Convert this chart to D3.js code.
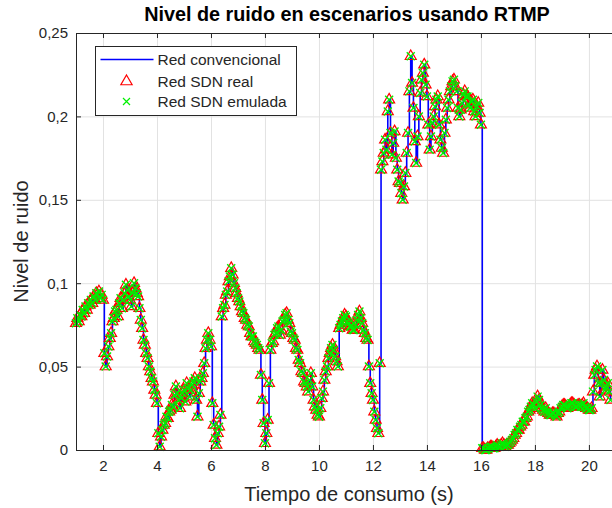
<!DOCTYPE html>
<html>
<head>
<meta charset="utf-8">
<script src="https://cdn.jsdelivr.net/npm/d3@7"></script>
<style>
body { margin: 0; background: #fff; }
svg { font-family: "Liberation Sans", Arial, sans-serif; }
</style>
</head>
<body>
<svg id="chart" width="612" height="508"></svg>
<script>
//
// Data
//

// sample times (s)
var tiempo = [
  1.00, 1.05, 1.10, 1.15, 1.20, 1.25, 1.30, 1.35, 1.40, 1.45, 1.50, 1.55, 1.60, 1.65, 1.70, 1.75, 1.80, 1.85, 1.90, 1.95,
  2.00, 2.05, 2.10, 2.15, 2.20, 2.25, 2.30, 2.35, 2.40, 2.45, 2.50, 2.55, 2.60, 2.65, 2.70, 2.75, 2.80, 2.85, 2.90, 2.95,
  3.00, 3.05, 3.10, 3.15, 3.20, 3.25, 3.30, 3.35, 3.40, 3.45, 3.50, 3.55, 3.60, 3.65, 3.70, 3.75, 3.80, 3.85, 3.90, 3.95,
  4.00, 4.05, 4.10, 4.15, 4.20, 4.25, 4.30, 4.35, 4.40, 4.45, 4.50, 4.55, 4.60, 4.65, 4.70, 4.75, 4.80, 4.85, 4.90, 4.95,
  5.00, 5.05, 5.10, 5.15, 5.20, 5.25, 5.30, 5.35, 5.40, 5.45, 5.50, 5.55, 5.60, 5.65, 5.70, 5.75, 5.80, 5.85, 5.90, 5.95,
  6.00, 6.05, 6.10, 6.15, 6.20, 6.25, 6.30, 6.35, 6.40, 6.45, 6.50, 6.55, 6.60, 6.65, 6.70, 6.75, 6.80, 6.85, 6.90, 6.95,
  7.00, 7.05, 7.10, 7.15, 7.20, 7.25, 7.30, 7.35, 7.40, 7.45, 7.50, 7.55, 7.60, 7.65, 7.70, 7.75, 7.80, 7.85, 7.90, 7.95,
  8.00, 8.05, 8.10, 8.15, 8.20, 8.25, 8.30, 8.35, 8.40, 8.45, 8.50, 8.55, 8.60, 8.65, 8.70, 8.75, 8.80, 8.85, 8.90, 8.95,
  9.00, 9.05, 9.10, 9.15, 9.20, 9.25, 9.30, 9.35, 9.40, 9.45, 9.50, 9.55, 9.60, 9.65, 9.70, 9.75, 9.80, 9.85, 9.90, 9.95,
  10.00, 10.05, 10.10, 10.15, 10.20, 10.25, 10.30, 10.35, 10.40, 10.45, 10.50, 10.55, 10.60, 10.65, 10.70, 10.75, 10.80, 10.85, 10.90, 10.95,
  11.00, 11.05, 11.10, 11.15, 11.20, 11.25, 11.30, 11.35, 11.40, 11.45, 11.50, 11.55, 11.60, 11.65, 11.70, 11.75, 11.80, 11.85, 11.90, 11.95,
  12.00, 12.05, 12.10, 12.15, 12.20, 12.25, 12.30, 12.35, 12.40, 12.45, 12.50, 12.55, 12.60, 12.65, 12.70, 12.75, 12.80, 12.85, 12.90, 12.95,
  13.00, 13.05, 13.10, 13.15, 13.20, 13.25, 13.30, 13.35, 13.40, 13.45, 13.50, 13.55, 13.60, 13.65, 13.70, 13.75, 13.80, 13.85, 13.90, 13.95,
  14.00, 14.05, 14.10, 14.15, 14.20, 14.25, 14.30, 14.35, 14.40, 14.45, 14.50, 14.55, 14.60, 14.65, 14.70, 14.75, 14.80, 14.85, 14.90, 14.95,
  15.00, 15.05, 15.10, 15.15, 15.20, 15.25, 15.30, 15.35, 15.40, 15.45, 15.50, 15.55, 15.60, 15.65, 15.70, 15.75, 15.80, 15.85, 15.90, 15.95,
  16.00, 16.05, 16.10, 16.15, 16.20, 16.25, 16.30, 16.35, 16.40, 16.45, 16.50, 16.55, 16.60, 16.65, 16.70, 16.75, 16.80, 16.85, 16.90, 16.95,
  17.00, 17.05, 17.10, 17.15, 17.20, 17.25, 17.30, 17.35, 17.40, 17.45, 17.50, 17.55, 17.60, 17.65, 17.70, 17.75, 17.80, 17.85, 17.90, 17.95,
  18.00, 18.05, 18.10, 18.15, 18.20, 18.25, 18.30, 18.35, 18.40, 18.45, 18.50, 18.55, 18.60, 18.65, 18.70, 18.75, 18.80, 18.85, 18.90, 18.95,
  19.00, 19.05, 19.10, 19.15, 19.20, 19.25, 19.30, 19.35, 19.40, 19.45, 19.50, 19.55, 19.60, 19.65, 19.70, 19.75, 19.80, 19.85, 19.90, 19.95,
  20.00, 20.05, 20.10, 20.15, 20.20, 20.25, 20.30, 20.35, 20.40, 20.45, 20.50, 20.55, 20.60, 20.65, 20.70, 20.75, 20.80
]

// noise level, the three networks overlap on the picture
var ruido = [
  0.076, 0.079, 0.077, 0.081, 0.080, 0.084, 0.082, 0.086, 0.084, 0.088, 0.087, 0.090, 0.088, 0.092, 0.090, 0.094, 0.093, 0.095, 0.091, 0.093,
  0.090, 0.058, 0.050, 0.056, 0.062, 0.067, 0.070, 0.077, 0.079, 0.083, 0.084, 0.080, 0.088, 0.091, 0.085, 0.090, 0.094, 0.099, 0.096, 0.092,
  0.090, 0.086, 0.094, 0.100, 0.097, 0.094, 0.092, 0.085, 0.078, 0.073, 0.066, 0.063, 0.058, 0.055, 0.050, 0.047, 0.043, 0.041, 0.036, 0.033,
  0.028, 0.010, 0.002, 0.008, 0.012, 0.015, 0.016, 0.020, 0.019, 0.023, 0.024, 0.027, 0.026, 0.033, 0.038, 0.034, 0.030, 0.025, 0.031, 0.034,
  0.036, 0.029, 0.040, 0.037, 0.032, 0.036, 0.039, 0.041, 0.043, 0.030, 0.020, 0.034, 0.041, 0.043, 0.046, 0.052, 0.061, 0.066, 0.070, 0.066,
  0.062, 0.028, 0.015, 0.007, 0.003, 0.010, 0.014, 0.021, 0.080, 0.085, 0.087, 0.093, 0.095, 0.101, 0.104, 0.109, 0.105, 0.100, 0.097, 0.094,
  0.091, 0.089, 0.086, 0.083, 0.082, 0.079, 0.078, 0.075, 0.074, 0.070, 0.068, 0.068, 0.065, 0.064, 0.063, 0.061, 0.060, 0.045, 0.030, 0.016,
  0.004, 0.010, 0.018, 0.040, 0.060, 0.064, 0.065, 0.069, 0.070, 0.073, 0.074, 0.069, 0.072, 0.077, 0.078, 0.081, 0.082, 0.078, 0.076, 0.071,
  0.070, 0.067, 0.066, 0.061, 0.060, 0.054, 0.052, 0.047, 0.046, 0.041, 0.040, 0.038, 0.035, 0.042, 0.046, 0.038, 0.030, 0.026, 0.024, 0.021,
  0.020, 0.025, 0.031, 0.035, 0.042, 0.047, 0.050, 0.055, 0.058, 0.061, 0.063, 0.060, 0.056, 0.053, 0.050, 0.073, 0.075, 0.077, 0.079, 0.081,
  0.080, 0.077, 0.076, 0.074, 0.074, 0.072, 0.072, 0.075, 0.078, 0.081, 0.083, 0.079, 0.076, 0.072, 0.070, 0.067, 0.066, 0.050, 0.040, 0.034,
  0.030, 0.023, 0.018, 0.013, 0.010, 0.052, 0.168, 0.173, 0.178, 0.186, 0.180, 0.203, 0.210, 0.190, 0.177, 0.184, 0.191, 0.175, 0.168, 0.161,
  0.160, 0.154, 0.150, 0.158, 0.166, 0.178, 0.190, 0.215, 0.236, 0.220, 0.205, 0.185, 0.172, 0.188, 0.200, 0.214, 0.222, 0.226, 0.231, 0.219,
  0.212, 0.195, 0.180, 0.188, 0.196, 0.200, 0.206, 0.210, 0.212, 0.195, 0.186, 0.181, 0.178, 0.190, 0.198, 0.205, 0.210, 0.215, 0.218, 0.221,
  0.222, 0.218, 0.215, 0.205, 0.200, 0.204, 0.208, 0.213, 0.215, 0.212, 0.212, 0.207, 0.205, 0.209, 0.210, 0.203, 0.200, 0.206, 0.208, 0.202,
  0.195, 0.001, 0.001, 0.000, 0.000, 0.001, 0.001, 0.002, 0.002, 0.001, 0.001, 0.002, 0.003, 0.002, 0.002, 0.003, 0.004, 0.003, 0.002, 0.003,
  0.003, 0.004, 0.005, 0.006, 0.007, 0.009, 0.010, 0.012, 0.012, 0.014, 0.015, 0.017, 0.017, 0.019, 0.020, 0.023, 0.024, 0.026, 0.028, 0.027,
  0.025, 0.029, 0.032, 0.030, 0.027, 0.025, 0.024, 0.023, 0.025, 0.023, 0.022, 0.021, 0.021, 0.022, 0.022, 0.021, 0.020, 0.022, 0.023, 0.025,
  0.026, 0.027, 0.027, 0.026, 0.025, 0.026, 0.027, 0.028, 0.028, 0.027, 0.026, 0.026, 0.027, 0.027, 0.026, 0.027, 0.028, 0.026, 0.025, 0.025,
  0.024, 0.024, 0.025, 0.035, 0.045, 0.048, 0.050, 0.040, 0.032, 0.040, 0.048, 0.042, 0.036, 0.038, 0.040, 0.035, 0.030
]

var xTicks = [2, 4, 6, 8, 10, 12, 14, 16, 18, 20]
var xTickLabels = ['2', '4', '6', '8', '10', '12', '14', '16', '18', '20']
var yTicks = [0, 0.05, 0.1, 0.15, 0.2, 0.25]
var yTickLabels = ['0', '0,05', '0,1', '0,15', '0,2', '0,25']
var seriesNames = ['Red convencional', 'Red SDN real', 'Red SDN emulada']

//
// Layout
//

var colorAxis = '#262626'
var colorGrid = '#e2e2e2'
var colorLine = '#0000ff'
var colorReal = '#ff0000'
var colorEmul = '#00f000'

var svg = d3.select('#chart')
var x = d3.scaleLinear().domain([1, 21.3]).range([76, 624])
var y = d3.scaleLinear().domain([0, 0.25]).range([450, 33])
var pts = tiempo.map(function(t, i) { return [t, ruido[i]] })

// grid
svg.append('g').selectAll('line').data(xTicks).join('line')
  .attr('x1', d => x(d) + 0.5).attr('x2', d => x(d) + 0.5)
  .attr('y1', y(0.25)).attr('y2', y(0))
  .attr('stroke', colorGrid)
svg.append('g').selectAll('line').data(yTicks).join('line')
  .attr('x1', x(1)).attr('x2', x(21.3))
  .attr('y1', d => y(d) + 0.5).attr('y2', d => y(d) + 0.5)
  .attr('stroke', colorGrid)

// data
svg.append('path')
  .datum(pts)
  .attr('fill', 'none')
  .attr('stroke', colorLine)
  .attr('stroke-width', 1.6)
  .attr('d', d3.line().x(d => x(d[0])).y(d => y(d[1])).curve(d3.curveStepAfter))

var tri = d3.symbol(d3.symbolTriangle, 52)
svg.append('g').selectAll('path').data(pts).join('path')
  .attr('transform', d => 'translate(' + x(d[0]) + ',' + y(d[1]) + ')')
  .attr('d', tri)
  .attr('fill', 'none')
  .attr('stroke', colorReal)
  .attr('stroke-width', 1.2)

var cross = 'M-4,-4L4,4M-4,4L4,-4'
svg.append('g').selectAll('path').data(pts).join('path')
  .attr('transform', d => 'translate(' + x(d[0]) + ',' + y(d[1]) + ')')
  .attr('d', cross)
  .attr('stroke', colorEmul)
  .attr('stroke-width', 1.4)

// axes
svg.append('g')
  .attr('transform', 'translate(0,' + y(0) + ')')
  .call(d3.axisBottom(x).tickValues(xTicks).tickFormat((d, i) => xTickLabels[i])
    .tickSizeInner(-5).tickSizeOuter(0).tickPadding(10))
svg.append('g')
  .attr('transform', 'translate(0,' + y(0.25) + ')')
  .call(d3.axisTop(x).tickValues(xTicks).tickFormat('')
    .tickSizeInner(-5).tickSizeOuter(0))
svg.append('g')
  .attr('transform', 'translate(' + x(1) + ',0)')
  .call(d3.axisLeft(y).tickValues(yTicks).tickFormat((d, i) => yTickLabels[i])
    .tickSizeInner(-5).tickSizeOuter(0).tickPadding(8))

svg.selectAll('.domain, .tick line').attr('stroke', colorAxis)
svg.selectAll('.tick text').attr('fill', colorAxis).style('font-size', '15px')
  .style('font-family', '"Liberation Sans", Arial, sans-serif')

// titles
var cx = (x(1) + x(21.3)) / 2
svg.append('text')
  .attr('x', cx - 3).attr('y', 21)
  .attr('text-anchor', 'middle')
  .style('font-size', '19.8px').style('font-weight', 'bold')
  .attr('fill', '#000')
  .text('Nivel de ruido en escenarios usando RTMP')

svg.append('text')
  .attr('x', cx - 1).attr('y', 501)
  .attr('text-anchor', 'middle')
  .style('font-size', '20px')
  .attr('fill', colorAxis)
  .text('Tiempo de consumo (s)')

svg.append('text')
  .attr('transform', 'translate(28,' + (y(0.125)) + ') rotate(-90)')
  .attr('text-anchor', 'middle')
  .style('font-size', '20px')
  .attr('fill', colorAxis)
  .text('Nivel de ruido')

// legend
var lg = svg.append('g').attr('transform', 'translate(95.5,46.5)')
lg.append('rect')
  .attr('width', 201).attr('height', 69)
  .attr('fill', '#fff').attr('stroke', colorAxis).attr('stroke-width', 1)
var rowY = [13, 35, 55]
lg.append('line')
  .attr('x1', 5).attr('x2', 58).attr('y1', rowY[0]).attr('y2', rowY[0])
  .attr('stroke', colorLine).attr('stroke-width', 1.4)
lg.append('path')
  .attr('transform', 'translate(31,' + rowY[1] + ')')
  .attr('d', d3.symbol(d3.symbolTriangle, 55))
  .attr('fill', 'none').attr('stroke', colorReal).attr('stroke-width', 1.2)
lg.append('path')
  .attr('transform', 'translate(31,' + rowY[2] + ')')
  .attr('d', 'M-3.5,-3.5L3.5,3.5M-3.5,3.5L3.5,-3.5')
  .attr('stroke', colorEmul).attr('stroke-width', 1.2)
lg.selectAll('text').data(seriesNames).join('text')
  .attr('x', 62).attr('y', (d, i) => rowY[i] + 5.5)
  .style('font-size', '15.5px')
  .attr('fill', colorAxis)
  .text(d => d)
</script>
</body>
</html>
